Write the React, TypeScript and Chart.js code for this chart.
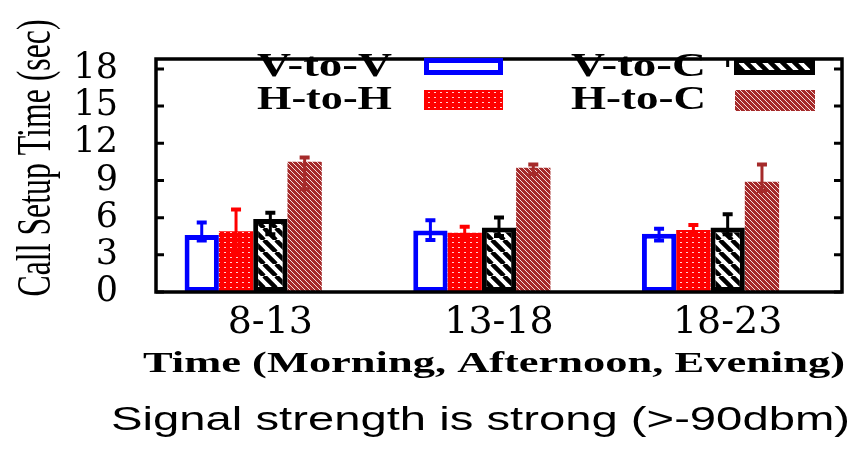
import React, { useEffect, useRef } from 'react';
import { Chart, registerables } from 'chart.js';

Chart.register(...registerables);

// ---- data ----
const categories = ['8-13', '13-18', '18-23'];
const seriesNames = ['V-to-V', 'H-to-H', 'V-to-C', 'H-to-C'];
const vToV = [4.6, 4.97, 4.7];
const hToH = [4.9, 4.78, 5.0];
const vToC = [5.9, 5.2, 5.2];
const hToC = [10.5, 10.03, 8.9];
const vToVHigh = [5.6, 5.78, 5.1];
const vToVLow = [4.15, 4.2, 4.15];
const hToHHigh = [6.65, 5.27, 5.4];
const hToHLow = [3.15, 4.3, 4.6];
const vToCHigh = [6.4, 6.02, 6.28];
const vToCLow = [4.65, 4.52, 4.65];
const hToCHigh = [10.85, 10.28, 10.28];
const hToCLow = [8.3, 9.53, 8.15];
const yTickValues = [0, 3, 6, 9, 12, 15, 18];
const yMax = 18.8;
const yTitle = 'Call Setup Time (sec)';
const xTitle = 'Time (Morning, Afternoon, Evening)';
const caption = 'Signal strength is strong (>-90dbm)';

const highs = [vToVHigh, hToHHigh, vToCHigh, hToCHigh];
const lows = [vToVLow, hToHLow, vToCLow, hToCLow];
const errColors = ['#0000ff', '#ff0000', '#000000', '#a52a2a'];

function makePattern(w: number, h: number, draw: (g: CanvasRenderingContext2D) => void) {
  const c = document.createElement('canvas');
  c.width = w;
  c.height = h;
  const g = c.getContext('2d') as CanvasRenderingContext2D;
  draw(g);
  return g.createPattern(c, 'repeat') as CanvasPattern;
}

function diagTile(s: number, bg: string, fg: string, lw: number) {
  return makePattern(s, s, (g) => {
    g.fillStyle = bg;
    g.fillRect(0, 0, s, s);
    g.strokeStyle = fg;
    g.lineWidth = lw;
    g.beginPath();
    for (let k = -1; k <= 1; k++) {
      g.moveTo(k * s, 0);
      g.lineTo(k * s + s, s);
    }
    g.stroke();
  });
}

function pixelDiagTile(s: number, bg: string, fg: string) {
  return makePattern(s, s, (g) => {
    g.fillStyle = bg;
    g.fillRect(0, 0, s, s);
    g.fillStyle = fg;
    for (let i = 0; i < s; i++) g.fillRect(i, i, 1, 1);
  });
}

function fitText(
  ctx: CanvasRenderingContext2D,
  text: string,
  font: string,
  x: number,
  y: number,
  width: number,
  align: CanvasTextAlign,
  rotate = 0
) {
  ctx.save();
  ctx.font = font;
  const w = ctx.measureText(text).width;
  ctx.translate(x, y);
  if (rotate) ctx.rotate(rotate);
  ctx.scale(width / w, 1);
  ctx.textAlign = align;
  ctx.textBaseline = 'alphabetic';
  ctx.fillStyle = '#000';
  ctx.fillText(text, 0, 0);
  ctx.restore();
}

export default function App() {
  const ref = useRef<HTMLCanvasElement>(null);

  useEffect(() => {
    document.body.style.margin = '0';
    const canvas = ref.current;
    if (!canvas) return;

    const dots = makePattern(6, 5, (g) => {
      g.fillStyle = '#ff0000';
      g.fillRect(0, 0, 6, 5);
      g.fillStyle = 'rgba(255,230,230,0.9)';
      g.fillRect(2, 2, 2, 1);
    });
    const hatchBlack = diagTile(12, '#ffffff', '#000000', 4.5);
    const hatchBrown = pixelDiagTile(5, '#a52a2a', '#f4dede');

    const fills = [
      { bg: '#ffffff', border: '#0000ff', bw: 5 },
      { bg: dots, border: null, bw: 0 },
      { bg: hatchBlack, border: '#000000', bw: 5 },
      { bg: hatchBrown, border: null, bw: 0 },
    ];

    const overlay = {
      id: 'overlay',
      afterDatasetsDraw(chart: any) {
        const ctx: CanvasRenderingContext2D = chart.ctx;
        const ys = chart.scales.y;
        ctx.save();
        for (let d = 0; d < 4; d++) {
          const meta = chart.getDatasetMeta(d);
          ctx.strokeStyle = errColors[d];
          meta.data.forEach((el: any, i: number) => {
            const x = el.x;
            const yh = ys.getPixelForValue(highs[d][i]);
            const yl = ys.getPixelForValue(lows[d][i]);
            ctx.lineWidth = 3;
            ctx.beginPath();
            ctx.moveTo(x, yh);
            ctx.lineTo(x, yl);
            ctx.stroke();
            ctx.lineWidth = 4;
            ctx.beginPath();
            ctx.moveTo(x - 5, yh);
            ctx.lineTo(x + 5, yh);
            ctx.moveTo(x - 5, yl);
            ctx.lineTo(x + 5, yl);
            ctx.stroke();
          });
        }
        ctx.restore();
      },
      afterDraw(chart: any) {
        const ctx: CanvasRenderingContext2D = chart.ctx;
        const { left, right, top, bottom } = chart.chartArea;
        const ys = chart.scales.y;
        const xs = chart.scales.x;
        ctx.save();
        // frame
        ctx.strokeStyle = '#000';
        ctx.lineWidth = 3.5;
        ctx.strokeRect(left, top, right - left, bottom - top);
        // inward ticks
        ctx.lineWidth = 3;
        ctx.beginPath();
        yTickValues.forEach((v) => {
          const y = ys.getPixelForValue(v);
          ctx.moveTo(left, y);
          ctx.lineTo(left + 8, y);
          ctx.moveTo(right, y);
          ctx.lineTo(right - 8, y);
        });
        categories.forEach((_, i) => {
          const x = xs.getPixelForTick(i);
          ctx.moveTo(x, top);
          ctx.lineTo(x, top + 8);
        });
        ctx.stroke();

        // legend
        const legendItems = [
          { text: seriesNames[0], tx: 392, ty: 76, bx: 424, by: 58, bw: 79, bh: 17 },
          { text: seriesNames[1], tx: 392, ty: 109, bx: 424, by: 90, bw: 79, bh: 20 },
          { text: seriesNames[2], tx: 706, ty: 76, bx: 734, by: 58, bw: 81, bh: 17 },
          { text: seriesNames[3], tx: 706, ty: 109, bx: 735, by: 90, bw: 80, bh: 21 },
        ];
        legendItems.forEach((it, d) => {
          fitText(ctx, it.text, 'bold 33px "Liberation Serif"', it.tx, it.ty, 135, 'right');
          const f = fills[d];
          ctx.fillStyle = f.bg as any;
          ctx.fillRect(it.bx, it.by, it.bw, it.bh);
          if (f.border) {
            ctx.strokeStyle = f.border;
            ctx.lineWidth = 5;
            ctx.strokeRect(it.bx + 2.5, it.by + 2.5, it.bw - 5, it.bh - 5);
          }
        });

        // titles
        fitText(ctx, yTitle, 'normal 49px "Liberation Serif"', 50, 158, 277, 'center', -Math.PI / 2);
        fitText(ctx, xTitle, 'bold 30px "Liberation Serif"', 494, 372, 702, 'center');
        fitText(ctx, caption, 'normal 33px "Liberation Sans"', 111, 430, 739, 'left');
        ctx.restore();
      },
    };

    const chart = new Chart(canvas, {
      type: 'bar',
      data: {
        labels: categories,
        datasets: [
          { label: seriesNames[0], data: vToV, backgroundColor: '#ffffff', borderColor: '#0000ff', borderWidth: 5, borderSkipped: false },
          { label: seriesNames[1], data: hToH, backgroundColor: dots as any, borderWidth: 0 },
          { label: seriesNames[2], data: vToC, backgroundColor: hatchBlack as any, borderColor: '#000000', borderWidth: 5, borderSkipped: false },
          { label: seriesNames[3], data: hToC, backgroundColor: hatchBrown as any, borderWidth: 0 },
          { label: '', data: categories.map(() => null) as any, backgroundColor: 'rgba(0,0,0,0)', borderWidth: 0 },
        ],
      },
      options: {
        responsive: false,
        animation: false,
        devicePixelRatio: 1,
        layout: { padding: { top: 41, right: 20, bottom: 0, left: 0 } },
        datasets: { bar: { categoryPercentage: 0.75, barPercentage: 1 } },
        plugins: {
          legend: { display: false },
          tooltip: { enabled: false },
          title: { display: false },
        },
        scales: {
          x: {
            type: 'category',
            offset: true,
            grid: { display: false, drawTicks: false },
            border: { display: false },
            ticks: {
              color: '#000',
              font: { family: 'DejaVu Serif', size: 38 },
              padding: 8,
              maxRotation: 0,
              autoSkip: false,
            },
            afterFit: (s: any) => {
              s.height = 160;
            },
          },
          y: {
            min: 0,
            max: yMax,
            grid: { display: false, drawTicks: false },
            border: { display: false },
            afterBuildTicks: (s: any) => {
              s.ticks = yTickValues.map((v) => ({ value: v }));
            },
            ticks: {
              color: '#000',
              font: { family: 'DejaVu Serif', size: 35 },
              padding: 38,
              autoSkip: false,
            },
            afterFit: (s: any) => {
              s.width = 156;
            },
          },
        },
      } as any,
      plugins: [overlay],
    });

    return () => chart.destroy();
  }, []);

  return (
    <div style={{ width: 862, height: 452, background: '#fff' }}>
      <canvas ref={ref} width={862} height={452} style={{ width: 862, height: 452, display: 'block' }} />
    </div>
  );
}
